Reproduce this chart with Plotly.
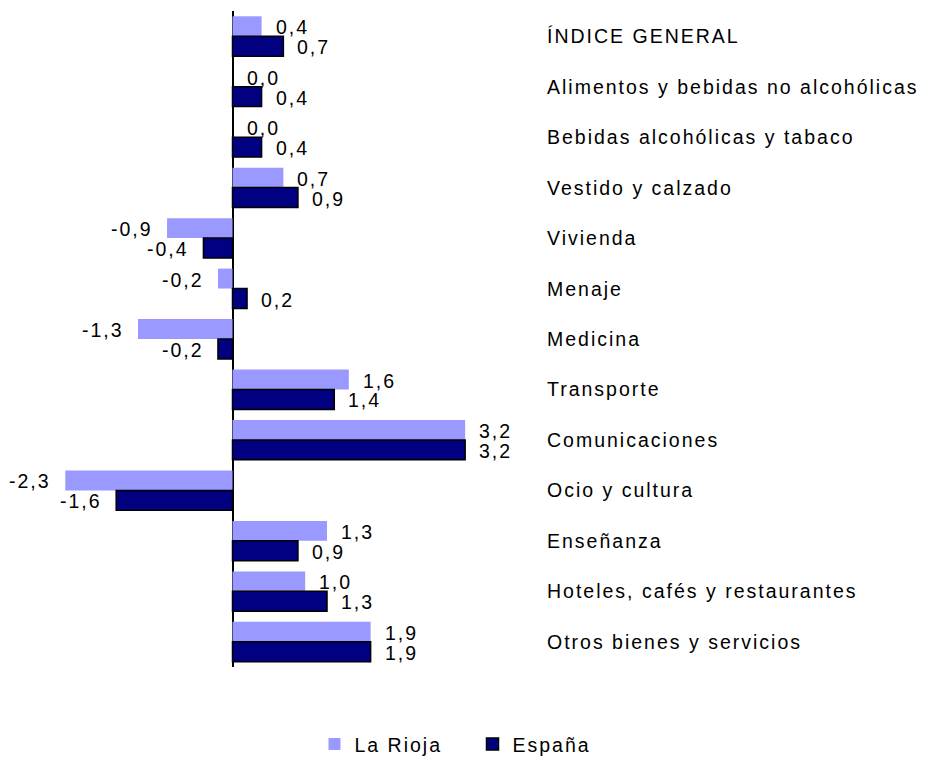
import plotly.graph_objects as go

categories = [
    "ÍNDICE GENERAL",
    "Alimentos y bebidas no alcohólicas",
    "Bebidas alcohólicas y tabaco",
    "Vestido y calzado",
    "Vivienda",
    "Menaje",
    "Medicina",
    "Transporte",
    "Comunicaciones",
    "Ocio y cultura",
    "Enseñanza",
    "Hoteles, cafés y restaurantes",
    "Otros bienes y servicios",
]
la_rioja = [0.4, 0.0, 0.0, 0.7, -0.9, -0.2, -1.3, 1.6, 3.2, -2.3, 1.3, 1.0, 1.9]
espana = [0.7, 0.4, 0.4, 0.9, -0.4, 0.2, -0.2, 1.4, 3.2, -1.6, 0.9, 1.3, 1.9]
series_names = ["La Rioja", "España"]

FONT = "Liberation Sans, Arial, Helvetica, sans-serif"
FS = 19.5
LS = "letter-spacing:2px"

# page body has an 8px default margin; the figure is sized to fit the window
W, H = 917, 750
ZERO_X = 224.5      # px of value 0 inside the figure
PX_PER_UNIT = 72.7


def spaced(t):
    return f'<span style="{LS}">{t}</span>'


def fmt(v):
    return f"{v:.1f}".replace(".", ",")


idx = list(range(len(categories)))
bargap = 0.21
half = (1 - bargap) / 4

fig = go.Figure()
fig.add_bar(y=idx, x=la_rioja, orientation="h", name=spaced(series_names[0]),
            marker=dict(color="#9999FF", line=dict(width=0)))
fig.add_bar(y=idx, x=espana, orientation="h", name=spaced(series_names[1]),
            marker=dict(color="#000080", line=dict(color="black", width=1.5)))

annotations = []
for values, off in ((la_rioja, -half), (espana, half)):
    for i, v in enumerate(values):
        pos = v >= 0
        annotations.append(dict(
            x=v, y=i + off, xref="x", yref="y", text=spaced(fmt(v)),
            showarrow=False, xanchor="left" if pos else "right",
            xshift=12 if pos else -12, yshift=-1,
            font=dict(family=FONT, size=FS, color="black")))

for i, c in enumerate(categories):
    annotations.append(dict(
        x=537 / W, y=i, xref="paper", yref="y", text=spaced(c),
        showarrow=False, xanchor="left", yanchor="middle",
        font=dict(family=FONT, size=FS, color="black")))

plot_h = 657
top = 2.5
fig.update_layout(
    width=W, height=H,
    margin=dict(l=0, r=0, t=top, b=H - top - plot_h, autoexpand=False),
    paper_bgcolor="white", plot_bgcolor="white",
    barmode="group", bargap=bargap, bargroupgap=0,
    font=dict(family=FONT, size=FS, color="black"),
    annotations=annotations,
    showlegend=True,
    legend=dict(orientation="h", x=0.5 + 6 / W, xanchor="center",
                y=-(77.5 / plot_h), yanchor="middle",
                traceorder="normal", entrywidth=113,
                font=dict(family=FONT, size=FS, color="black")),
    xaxis=dict(range=[-ZERO_X / PX_PER_UNIT, (W - ZERO_X) / PX_PER_UNIT],
               showticklabels=False, showgrid=False, zeroline=True,
               zerolinecolor="black", zerolinewidth=2, layer="above traces",
               ticks=""),
    yaxis=dict(range=[12.5, -0.5], showticklabels=False, showgrid=False,
               zeroline=False, ticks=""),
)

fig.write_html("out.html")
